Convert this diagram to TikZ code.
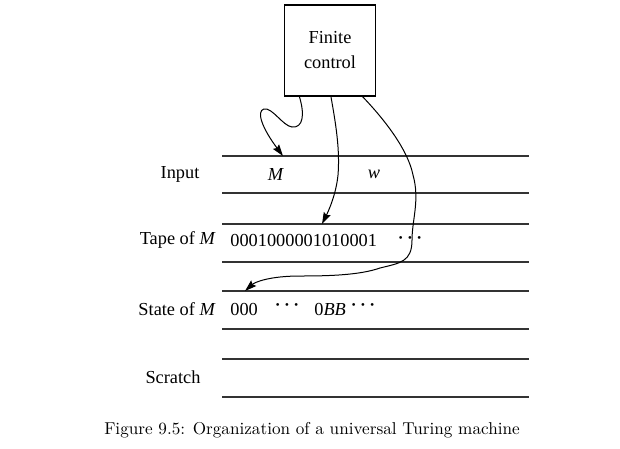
\documentclass[tikz,border=0pt]{standalone}
\usepackage{fontspec}
\newfontfamily\tfont{Liberation Serif}
\usetikzlibrary{arrows.meta,calc}
\newcommand\tdots{{\boldmath$\cdots$}}
\tikzset{
  lbl/.style={font=\tfont\fontsize{11}{13}\selectfont, inner sep=0pt},
  tapeline/.style={black!80, line width=0.7pt},
  head/.style={-{Stealth[length=7pt,width=4.5pt,inset=1pt]}, line width=0.6pt}
}
\begin{document}
\begin{tikzpicture}[x=0.6pt,y=-0.6pt]
      \useasboundingbox (0,0) rectangle (620,448);
      \node[draw, line width=0.7pt, minimum width=55pt, minimum height=54.6pt,
        align=center, lbl] (fc) at (330,50.5) {Finite\\[2pt]control};
      \draw[tapeline]
        (222,156) -- (529,156)
        (222,193) -- (529,193)
        (222,224) -- (529,224)
        (222,262) -- (529,262)
        (222,291) -- (529,291)
        (222,329) -- (529,329)
        (222,359) -- (529,359)
        (222,397) -- (529,397);
      \node[lbl] (input) at (180,174) {Input};
      \node[lbl, anchor=east] (tape) at (216,240) {Tape of \textit{M}};
      \node[lbl, anchor=east] (state) at (216,309) {State of \textit{M}};
      \node[lbl] (scratch) at (173,377) {Scratch};
      \node[lbl] (m) at (276,174) {\textit{M}};
      \node[lbl] (w) at (374,174) {\textit{w}};
      \node[lbl, anchor=west] (code) at (230,240) {0001000001010001};
      \node[lbl] (dots1) at (410,238) {\tdots};
      \node[lbl, anchor=west] (zeros) at (230,309) {000};
      \node[lbl] (dots2) at (287,305.5) {\tdots};
      \node[lbl, anchor=west] (blanks) at (314,309) {0\textit{BB}};
      \node[lbl] (dots3) at (363,305.5) {\tdots};
      \coordinate (inM) at (283,156);
      \coordinate (onTape) at (322,224);
      \coordinate (onState) at (245,291);
      \begin{scope}[head]
        \draw ($(fc.south west)!0.17!(fc.south east)$)
          .. controls (305,115) and (303,128) .. (292,127)
          .. controls (283,126) and (272,107) .. (264,109)
          .. controls (256,111) and (262,128) .. (inM);
        \draw ($(fc.south west)!0.51!(fc.south east)$)
          .. controls (336,125) and (340,150) .. (338,175)
          .. controls (336,195) and (328,212) .. (onTape);
        \draw ($(fc.south west)!0.85!(fc.south east)$)
          .. controls (385,120) and (408,150) .. (413,175)
          .. controls (420,200) and (412,220) .. (412,240)
          .. controls (412,262) and (400,263) .. (380,268)
          .. controls (360,275) and (330,276) .. (300,276)
          .. controls (270,276) and (255,282) .. (onState);
      \end{scope}
      \node[font=\fontsize{10.3}{12}\selectfont] (caption) at (312,430)
        {Figure 9.5: Organization of a universal Turing machine};
    \end{tikzpicture}
\end{document}
